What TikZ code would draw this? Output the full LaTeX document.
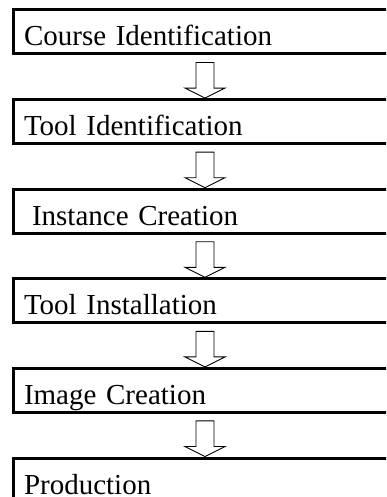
\documentclass[tikz,border=0pt]{standalone}
\usepackage{fontspec}
\setmainfont{Liberation Serif}
\usetikzlibrary{calc}
\tikzset{
  stage/.style={draw, line width=3pt, text width=362pt, align=left,
                inner xsep=10.5pt, inner ysep=0pt, text height=36pt, text depth=8pt,
                font=\fontsize{29}{34}\selectfont},
  hollow/.style={line width=0.9pt, to path={
      let \p1=(\tikztostart), \p2=(\tikztotarget) in
      (\x1-9pt,\y1-7pt) -- (\x1-9pt,\y2+10pt) -- (\x1-20pt,\y2+10pt) -- (\x1,\y2)
      -- (\x1+20pt,\y2+10pt) -- (\x1+9pt,\y2+10pt) -- (\x1+9pt,\y1-7pt) -- cycle}},
}

\begin{document}
\begin{tikzpicture}[x=1pt, y=-1pt]
  \useasboundingbox (0,0) rectangle (386,497);
  \clip (0,0) rectangle (386,497);

  % Stages, top to bottom
  \node[stage] (course)  at (205,32)    {Course Identification};
  \node[stage] (toolid)  at (205,121.6) {Tool Identification};
  \node[stage] (inst)    at (205,211.2) {\hspace*{8pt}Instance Creation};
  \node[stage] (install) at (205,300.8) {Tool Installation};
  \node[stage] (image)   at (205,390.4) {Image Creation};
  \node[stage] (prod)    at (205,480)   {Production};

  % Block arrows
  \draw[hollow] (course.south)  to (toolid.north);
  \draw[hollow] (toolid.south)  to (inst.north);
  \draw[hollow] (inst.south)    to (install.north);
  \draw[hollow] (install.south) to (image.north);
  \draw[hollow] (image.south)   to (prod.north);

\end{tikzpicture}
\end{document}
